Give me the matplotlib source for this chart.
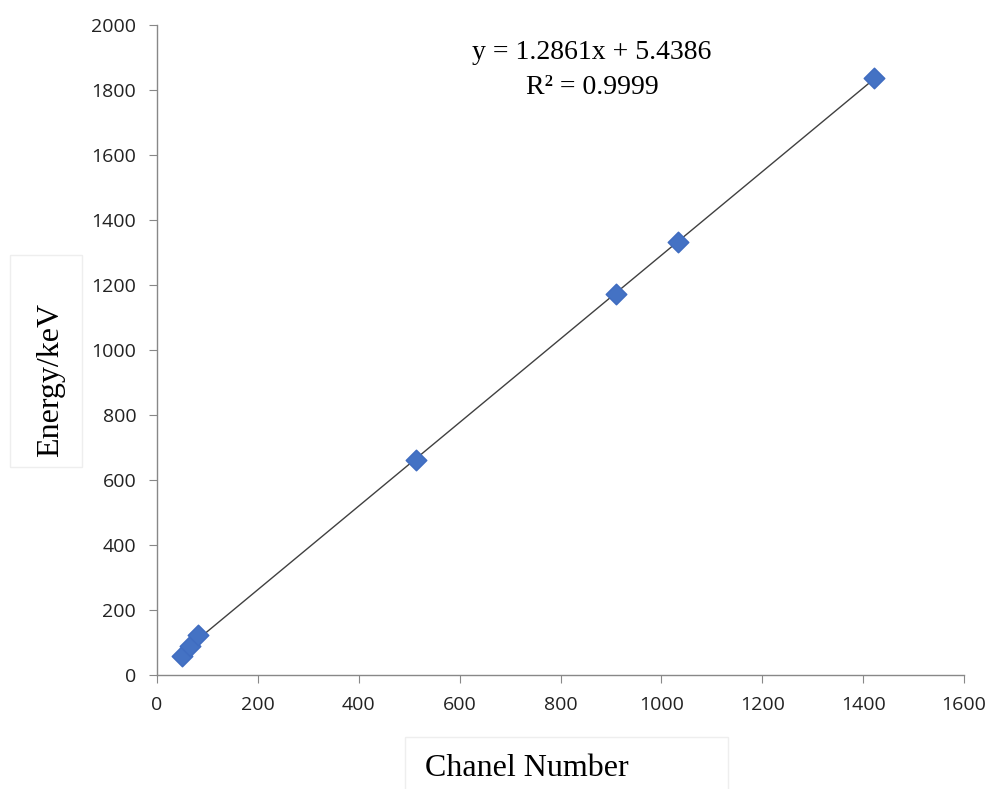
import matplotlib
matplotlib.use("Agg")
import matplotlib.pyplot as plt
from matplotlib.patches import Rectangle
import numpy as np

channel = [50, 65, 81, 513, 910, 1033, 1421]
energy = [59, 90, 124, 661, 1171, 1332, 1836]
slope = 1.2861
intercept = 5.4386
xticks = [0, 200, 400, 600, 800, 1000, 1200, 1400, 1600]
yticks = [0, 200, 400, 600, 800, 1000, 1200, 1400, 1600, 1800, 2000]

W, H = 992, 789
fig = plt.figure(figsize=(W / 100, H / 100), dpi=100)
ax = fig.add_axes([157 / W, 1 - 675 / H, (964 - 157) / W, (675 - 25) / H])

xf = np.array([min(channel), max(channel)])
ax.plot(xf, slope * xf + intercept, color="#404040", lw=1.0, zorder=2)
ax.scatter(channel, energy, marker="D", s=110, color="#4472C4", edgecolors="#3F6CC0", zorder=3)

ax.set_xlim(0, 1600)
ax.set_ylim(0, 2000)
ax.set_xticks(xticks)
ax.set_yticks(yticks)
for s in ["top", "right"]:
    ax.spines[s].set_visible(False)
for s in ["left", "bottom"]:
    ax.spines[s].set_color("#888888")
    ax.spines[s].set_linewidth(1.0)
ax.tick_params(direction="out", length=6, color="#888888", labelsize=14,
               labelcolor="#222222", pad=9)
for lab in ax.get_xticklabels() + ax.get_yticklabels():
    lab.set_family(["Open Sans", "DejaVu Sans"])

serif = ["Liberation Serif", "DejaVu Serif"]
ax.text((592 - 157) / 807, 1 - (40 - 25) / 650, "y = 1.2861x + 5.4386\nR² = 0.9999",
        transform=ax.transAxes, ha="center", va="top", fontsize=20, family=serif,
        linespacing=1.55)

# label boxes
fig.patches.append(Rectangle((10 / W, 1 - 467 / H), 72 / W, 212 / H, transform=fig.transFigure,
                             fc="white", ec="#eeeeee", lw=1, zorder=0))
fig.patches.append(Rectangle((405 / W, 1 - 800 / H), 323 / W, 63 / H, transform=fig.transFigure,
                             fc="white", ec="#eeeeee", lw=1, zorder=0))
fig.text(51 / W, 1 - 380 / H, "Energy/keV", rotation=90, ha="center", va="center",
         fontsize=23, family=serif)
fig.text(527 / W, 1 - 768 / H, "Chanel Number", ha="center", va="center",
         fontsize=23, family=serif)

fig.savefig("out.png", dpi=100)
